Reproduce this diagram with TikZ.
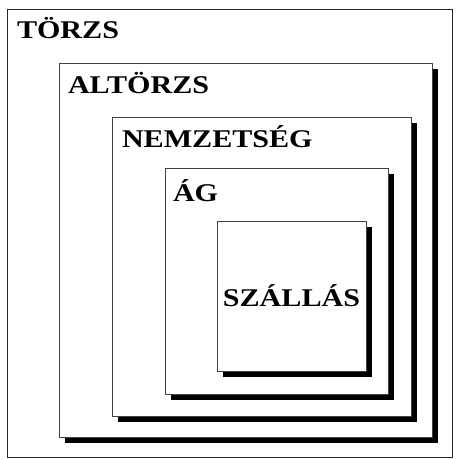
\documentclass[tikz,border=0pt]{standalone}
\usepackage{fontspec}
\setmainfont{Liberation Serif}[FakeStretch=1.18]
\usetikzlibrary{calc}
\usetikzlibrary{shadows}
\tikzstyle{base}=[inner sep=0pt, outer sep=0pt]
\tikzstyle{outerbox}=[base, draw=black!85, line width=1pt, fill=white]
\tikzstyle{tier}=[base, draw=black!75, line width=0.7pt, fill=white,
    drop shadow={shadow xshift=6pt, shadow yshift=-6pt, opacity=1, fill=black}]
\tikzstyle{tiername}=[base, anchor=base west, font=\fontsize{25.5}{30}\selectfont\bfseries]

\begin{document}
\begin{tikzpicture}[x=1pt, y=-1pt]
    \fill [white] (0,0) rectangle (456,460);
    \node [outerbox, minimum width=445pt, minimum height=447pt] (torzs) at (229.5,233.5) {};
    \node [tier, minimum width=373pt, minimum height=374pt] (altorzs) at (245.5,250) {};
    \node [tier, minimum width=299pt, minimum height=299pt] (nemzetseg) at (261.5,266.5) {};
    \node [tier, minimum width=223pt, minimum height=226pt] (ag) at (276.5,281) {};
    \node [tier, minimum width=149pt, minimum height=150pt,
        font=\fontsize{25.5}{30}\selectfont\bfseries] (szallas) at (291.5,296) {SZÁLLÁS};
    \node [tiername] (torzsname) at ($(torzs.north west)+(10,29)$) {TÖRZS};
    \node [tiername] (altorzsname) at ($(altorzs.north west)+(9,30)$) {ALTÖRZS};
    \node [tiername] (nemzetsegname) at ($(nemzetseg.north west)+(10,30)$) {NEMZETSÉG};
    \node [tiername] (agname) at ($(ag.north west)+(8,33)$) {ÁG};
    \path [use as bounding box] (0,0) rectangle (456,460);
\end{tikzpicture}
\end{document}
